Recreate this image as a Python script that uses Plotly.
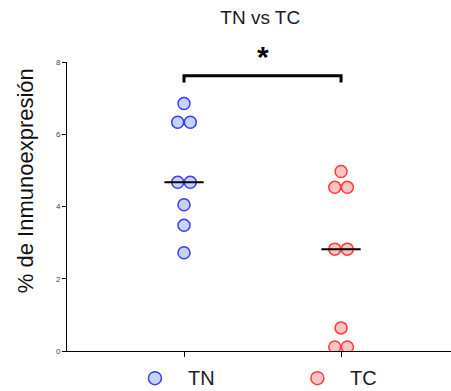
import numpy as np
import plotly.graph_objects as go

groups = ["TN", "TC"]
tn_values = [6.85, 6.33, 6.33, 4.67, 4.67, 4.05, 3.48, 2.72]
tc_values = [4.97, 4.53, 4.53, 2.82, 2.82, 0.64, 0.11, 0.11]
fill_colors = ["#c4d6ff", "#ffc4c4"]
line_colors = ["#3b3bff", "#ff3b3b"]
yticks = [0, 2, 4, 6, 8]

def spread(vals, pos, step=0.04):
    vals = np.asarray(vals)
    xs = np.zeros(len(vals), dtype=float)
    for v in np.unique(vals):
        idx = np.where(vals == v)[0]
        n = len(idx)
        offs = (np.arange(n) - (n - 1) / 2) * 2 * step
        xs[idx] = pos + offs
    return xs

fig = go.Figure()
for i, (name, vals) in enumerate(zip(groups, [tn_values, tc_values])):
    fig.add_trace(go.Scatter(
        x=spread(vals, i), y=vals, mode="markers", name=name, showlegend=False,
        marker=dict(size=12, color=fill_colors[i],
                    line=dict(color=line_colors[i], width=1.5)),
    ))
for i, vals in enumerate([tn_values, tc_values]):
    m = float(np.median(vals))
    fig.add_trace(go.Scatter(
        x=[i - 0.125, i + 0.125], y=[m, m], mode="lines",
        line=dict(color="black", width=2), showlegend=False, hoverinfo="skip",
    ))

# significance bracket
fig.add_shape(type="path", path="M 0,7.43 L 0,7.62 L 1,7.62 L 1,7.43",
              xref="x", yref="y", line=dict(color="black", width=3))
fig.add_annotation(x=0.5, y=1.02, xref="x", yref="paper", text="<b>*</b>",
                   showarrow=False, yanchor="middle",
                   font=dict(size=30, color="black", family="Arial"))

# y-axis title
fig.add_annotation(x=-0.109, y=0.588, xref="paper", yref="paper",
                   text="% de Inmunoexpresión", textangle=-90, showarrow=False,
                   xanchor="center", yanchor="middle",
                   font=dict(size=22, color="#111"))

# legend (drawn below the axis)
leg_x = [0.229, 0.652]   # paper x of legend symbols
leg_y = -0.094
for i, name in enumerate(groups):
    fig.add_shape(type="circle", xref="paper", yref="paper",
                  xsizemode="pixel", ysizemode="pixel",
                  xanchor=leg_x[i], yanchor=leg_y,
                  x0=-6.5, x1=6.5, y0=-6.5, y1=6.5,
                  fillcolor=fill_colors[i], line=dict(color=line_colors[i], width=1.5))
    fig.add_annotation(x=leg_x[i] + 0.08, y=leg_y, xref="paper", yref="paper",
                       text=name, showarrow=False, xanchor="left", yanchor="middle",
                       font=dict(size=20, color="#1a1a2a"))

fig.update_layout(
    width=451, height=391,
    margin=dict(l=67, r=0, t=62, b=40, autoexpand=False),
    paper_bgcolor="white", plot_bgcolor="white",
    font=dict(family="Arial, Liberation Sans, sans-serif", color="#222"),
    title=dict(text="TN vs TC", x=0.577, xanchor="center", y=0.955, yanchor="middle",
               font=dict(size=19, color="#1a1a2a")),
    showlegend=False,
    xaxis=dict(range=[-0.745, 1.70], tickvals=[0, 1], ticktext=["", ""],
               showline=True, linecolor="black", linewidth=1, ticks="outside",
               ticklen=5, tickcolor="black", showgrid=False, zeroline=False,
               fixedrange=True),
    yaxis=dict(range=[0, 8], tickvals=yticks, showline=True, linecolor="black",
               linewidth=1, ticks="outside", ticklen=4, tickcolor="black",
               showgrid=False, zeroline=False,
               tickfont=dict(size=8, color="#444", family="Arial Black, Arial")),
)

fig.write_html("out.html")
